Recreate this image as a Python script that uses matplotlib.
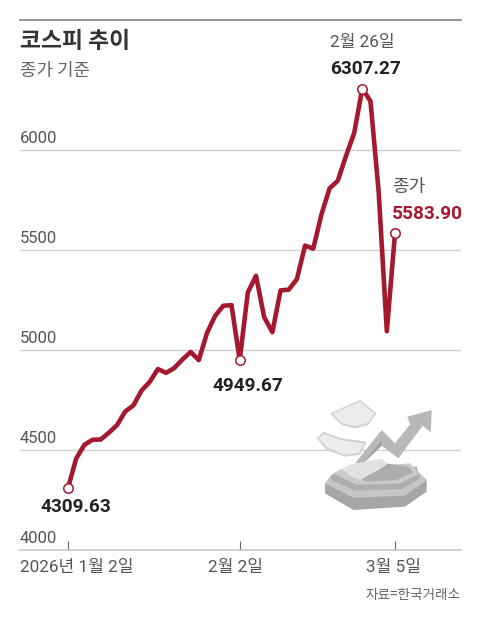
import matplotlib
matplotlib.use("Agg")
import matplotlib.pyplot as plt
from matplotlib.patches import Polygon

FAM = ['Roboto', 'Noto Sans CJK KR', 'DejaVu Sans']
KR = ['Noto Sans CJK KR', 'DejaVu Sans']
plt.rcParams['font.family'] = FAM

W, H = 480, 622
closes = [4309.63, 4457.52, 4525.48, 4551.06, 4552.37, 4586.32, 4624.79, 4692.64,
          4723.10, 4797.55, 4840.74, 4904.66, 4885.75, 4909.93, 4952.53, 4990.07,
          4949.59, 5084.85, 5170.81, 5221.25, 5224.36, 4949.67, 5288.08, 5371.10,
          5163.57, 5089.14, 5298.04, 5301.69, 5354.49, 5522.27, 5507.01, 5677.25,
          5808.53, 5846.09, 5969.64, 6083.86, 6307.27, 6244.13, 5791.91, 5093.54,
          5583.90]
days = list(range(len(closes)))
y_ticks = [4000, 4500, 5000, 5500, 6000]
x_ticks = [0, 21, 40]
x_labels = ['2026년 1월 2일', '2월 2일', '3월 5일']
marked = [0, 21, 36, 40]

RED = '#A5192E'
GREY = '#555555'
fig = plt.figure(figsize=(W/100, H/100), dpi=100, facecolor='white')

L, R, B = 20, 461, 550
ax = fig.add_axes([L/W, 1-B/H, (R-L)/W, (B-20)/H], zorder=2)
ax.patch.set_alpha(0)
step = 327/40
ax.set_xlim((L-68)/step, (R-68)/step)
ax.set_ylim(4000, 4000+(B-20)*5)
for s in ax.spines.values():
    s.set_visible(False)
ax.spines['bottom'].set_visible(True)
ax.spines['bottom'].set_color('#c9c9c9')
ax.spines['bottom'].set_linewidth(1.2)
ax.set_yticks(y_ticks[1:])
ax.set_yticklabels([])
ax.tick_params(axis='y', length=0)
ax.grid(axis='y', color='#cfcfcf', lw=1.0)
ax.set_axisbelow(True)
ax.set_xticks(x_ticks)
ax.set_xticklabels([])
ax.tick_params(axis='x', direction='in', length=6.5, width=0.8, color='#666666')

ax.plot(days, closes, color=RED, lw=3.3, solid_joinstyle='round', solid_capstyle='butt', zorder=3)
ax.plot([days[i] for i in marked], [closes[i] for i in marked], ls='none', marker='o', ms=6.8,
        mfc='white', mec=RED, mew=1.1, zorder=4)

# axis labels
for v in y_ticks:
    ax.annotate(str(v), (0, v), xycoords=('axes fraction', 'data'), xytext=(0, 5.3), textcoords='offset points',
                ha='left', va='baseline', fontsize=12, color=GREY)
ax.annotate(x_labels[0], (0, 0), xycoords='axes fraction', xytext=(0, -12.8), textcoords='offset points',
            ha='left', va='center', fontsize=12.3, color=GREY)
for t, lab, dx in zip(x_ticks[1:], x_labels[1:], [-3, -1]):
    ax.annotate(lab, (t, 0), xycoords=('data', 'axes fraction'), xytext=(dx, -12.8), textcoords='offset points',
                ha='center', va='center', fontsize=12.3, color=GREY)

# overlay in pixel coordinates for titles, callouts and the illustration
pg = fig.add_axes([0, 0, 1, 1], zorder=5)
pg.set_xlim(0, W); pg.set_ylim(H, 0); pg.axis('off')

pg.text(20, 42, '코스피 추이', family=KR, fontsize=16.4, fontweight='bold', color='#333333', ha='left', va='center')
pg.text(20, 71, '종가 기준', family=KR, fontsize=12.9, color='#666666', ha='left', va='center')
pg.plot([20, 461], [20, 20], color='#8c8c8c', lw=1.3)
pg.text(461, 595, '자료=한국거래소', family=KR, fontsize=9.8, color='#666666', ha='right', va='center')

pg.text(330, 43, '2월 26일', fontsize=12.3, color=GREY, ha='left', va='center')
pg.text(330, 69, '6307.27', fontsize=13.7, fontweight='bold', color='#222222', ha='left', va='center')
pg.text(392, 187, '종가', family=KR, fontsize=13, color=GREY, ha='left', va='center')
pg.text(392, 214, '5583.90', fontsize=13.7, color=RED, fontweight='bold', ha='left', va='center')
pg.text(213, 386, '4949.67', fontsize=13.7, color='#222222', fontweight='bold', ha='left', va='center')
pg.text(41, 507, '4309.63', fontsize=13.7, color='#222222', fontweight='bold', ha='left', va='center')

# decorative illustration, outlined on a 3x crop of the picture
def poly(pts, c):
    pg.add_patch(Polygon([(310+x/3, 395+y/3) for x, y in pts], closed=True, fc=c, ec='none'))

poly([(45,265),(65,240),(330,240),(350,255),(350,290),(285,335),(130,345),(45,295)], '#a6a6a6')
poly([(45,265),(130,308),(285,302),(350,255),(320,225),(70,240)], '#c6c6c6')
poly([(65,240),(95,222),(320,215),(330,250),(275,282),(135,287),(65,255)], '#aeaeae')
poly([(70,235),(100,220),(300,205),(330,235),(270,265),(140,270)], '#cacaca')
poly([(130,235),(230,205),(295,215),(310,232),(260,255),(170,260)], '#adadad')
poly([(135,205),(215,105),(255,145),(300,88),(292,65),(365,45),(362,112),(338,92),(265,190),(215,152),(160,205)], '#b8b8b8')
poly([(160,205),(215,135),(215,152)], '#a2a2a2')
poly([(95,222),(115,210),(190,195),(215,192),(235,205),(205,225),(150,255),(125,245)], '#e2e2e2')
poly([(60,55),(150,15),(200,55),(175,90),(135,100),(95,90)], '#d2d2d2')
poly([(68,56),(150,20),(193,56),(172,84),(135,94),(97,84)], '#ececec')
poly([(20,130),(40,110),(95,130),(170,140),(150,180),(105,185),(50,165)], '#d2d2d2')
poly([(26,130),(42,116),(95,136),(162,146),(146,174),(105,179),(54,159)], '#ececec')

fig.savefig('out.png', dpi=100)
